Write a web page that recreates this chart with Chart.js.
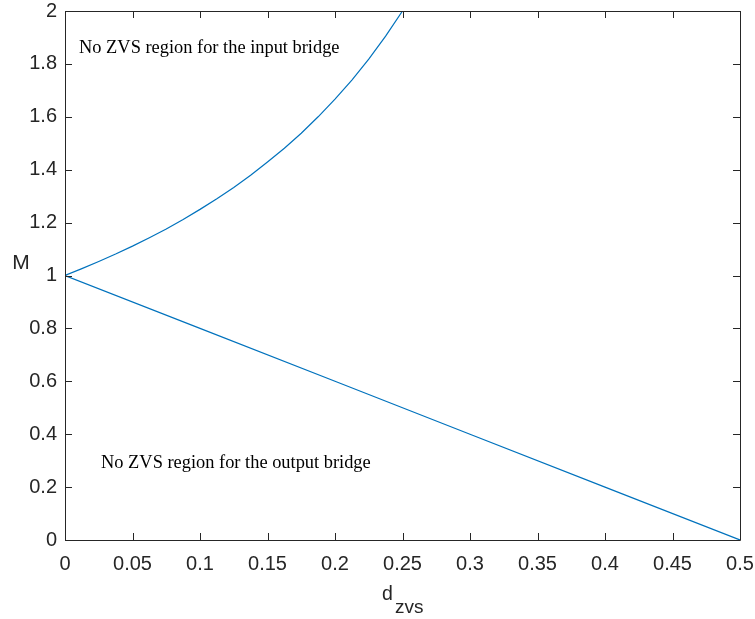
<!DOCTYPE html>
<html>
<head>
<meta charset="utf-8">
<script src="https://cdn.jsdelivr.net/npm/chart.js@4.4.1/dist/chart.umd.min.js"></script>
<style>
  html, body { margin: 0; padding: 0; background: #fff; }
  canvas { display: block; }
</style>
</head>
<body>
<canvas id="c" width="755" height="619"></canvas>
<script>
// ---- data ----
const upperD = [0, 0.0125, 0.025, 0.0375, 0.05, 0.0625, 0.075, 0.0875, 0.1, 0.1125, 0.125, 0.1375, 0.15, 0.1625, 0.175, 0.1875, 0.2, 0.2125, 0.225, 0.2375, 0.25];
const upperM = [1, 1.026, 1.053, 1.081, 1.111, 1.143, 1.176, 1.212, 1.25, 1.29, 1.333, 1.379, 1.429, 1.481, 1.538, 1.6, 1.667, 1.739, 1.818, 1.905, 2];
const lowerD = [0, 0.1, 0.2, 0.3, 0.4, 0.5];
const lowerM = [1, 0.8, 0.6, 0.4, 0.2, 0];

const xTickValues = [0, 0.05, 0.1, 0.15, 0.2, 0.25, 0.3, 0.35, 0.4, 0.45, 0.5];
const xTickLabels = ['0', '0.05', '0.1', '0.15', '0.2', '0.25', '0.3', '0.35', '0.4', '0.45', '0.5'];
const yTickValues = [0, 0.2, 0.4, 0.6, 0.8, 1, 1.2, 1.4, 1.6, 1.8, 2];
const yTickLabels = ['0', '0.2', '0.4', '0.6', '0.8', '1', '1.2', '1.4', '1.6', '1.8', '2'];

const noteTexts = ['No ZVS region for the input bridge', 'No ZVS region for the output bridge'];
const noteX = [0.0104, 0.0267];
const noteY = [1.841, 0.272];

// ---- styles ----
const LINE_COLOR = '#0072BD';
const AXIS_COLOR = '#262626';
const SANS = '"Liberation Sans", Arial, Helvetica, sans-serif';
const SERIF = '"Liberation Serif", "Times New Roman", serif';

function pts(xs, ys) { return xs.map((x, i) => ({ x: x, y: ys[i] })); }

const framePlugin = {
  id: 'frame',
  afterDatasetsDraw(chart) {
    const ctx = chart.ctx, a = chart.chartArea;
    const xs = chart.scales.x, ys = chart.scales.y;
    const L = 7;
    ctx.save();
    ctx.strokeStyle = AXIS_COLOR;
    ctx.lineWidth = 1;
    ctx.beginPath();
    ctx.rect(Math.round(a.left) + 0.5, Math.round(a.top) + 0.5, Math.round(a.right - a.left), Math.round(a.bottom - a.top));
    ctx.stroke();
    ctx.beginPath();
    xTickValues.forEach(v => {
      const px = Math.round(xs.getPixelForValue(v)) + 0.5;
      ctx.moveTo(px, a.bottom); ctx.lineTo(px, a.bottom - L);
      ctx.moveTo(px, a.top); ctx.lineTo(px, a.top + L);
    });
    yTickValues.forEach(v => {
      const py = Math.round(ys.getPixelForValue(v)) + 0.5;
      ctx.moveTo(a.left, py); ctx.lineTo(a.left + L, py);
      ctx.moveTo(a.right, py); ctx.lineTo(a.right - L, py);
    });
    ctx.stroke();

    // notes
    ctx.fillStyle = '#000';
    ctx.font = '18.4px ' + SERIF;
    ctx.textAlign = 'left';
    ctx.textBaseline = 'alphabetic';
    noteTexts.forEach((t, i) => {
      ctx.fillText(t, xs.getPixelForValue(noteX[i]), ys.getPixelForValue(noteY[i]));
    });

    // axis titles
    ctx.fillStyle = AXIS_COLOR;
    ctx.font = '21px ' + SANS;
    ctx.textAlign = 'center';
    ctx.textBaseline = 'middle';
    ctx.fillText('M', 21, 263);

    ctx.textAlign = 'left';
    ctx.textBaseline = 'alphabetic';
    ctx.font = '19.5px ' + SANS;
    ctx.fillText('d', 382, 600);
    ctx.font = '19px ' + SANS;
    ctx.fillText('zvs', 395, 613);
    ctx.restore();
  }
};

new Chart(document.getElementById('c'), {
  type: 'scatter',
  data: {
    datasets: [
      { data: pts(upperD, upperM), showLine: true, borderColor: LINE_COLOR, borderWidth: 1.2, pointRadius: 0, fill: false, tension: 0 },
      { data: pts(lowerD, lowerM), showLine: true, borderColor: LINE_COLOR, borderWidth: 1.2, pointRadius: 0, fill: false, tension: 0 }
    ]
  },
  options: {
    responsive: false,
    animation: false,
    devicePixelRatio: 1,
    layout: { padding: { left: 0, top: 11, right: 15, bottom: 0 } },
    plugins: { legend: { display: false }, tooltip: { enabled: false }, title: { display: false } },
    scales: {
      x: {
        type: 'linear', min: 0, max: 0.5,
        afterFit(s) { s.height = 79; s.paddingLeft = 0; s.paddingRight = 0; },
        afterBuildTicks(s) { s.ticks = xTickValues.map(v => ({ value: v })); },
        grid: { display: false, drawTicks: false },
        border: { display: false },
        ticks: {
          padding: 12, color: AXIS_COLOR, maxRotation: 0, autoSkip: false,
          font: { family: SANS, size: 20 },
          callback: (v) => { const i = xTickValues.findIndex(t => Math.abs(t - v) < 1e-9); return i >= 0 ? xTickLabels[i] : ''; }
        }
      },
      y: {
        type: 'linear', min: 0, max: 2,
        afterFit(s) { s.width = 65; s.paddingTop = 0; s.paddingBottom = 0; },
        afterBuildTicks(s) { s.ticks = yTickValues.map(v => ({ value: v })); },
        grid: { display: false, drawTicks: false },
        border: { display: false },
        ticks: {
          padding: 8, color: AXIS_COLOR, autoSkip: false,
          font: { family: SANS, size: 20 },
          callback: (v) => { const i = yTickValues.findIndex(t => Math.abs(t - v) < 1e-9); return i >= 0 ? yTickLabels[i] : ''; }
        }
      }
    }
  },
  plugins: [framePlugin]
});
</script>
</body>
</html>
